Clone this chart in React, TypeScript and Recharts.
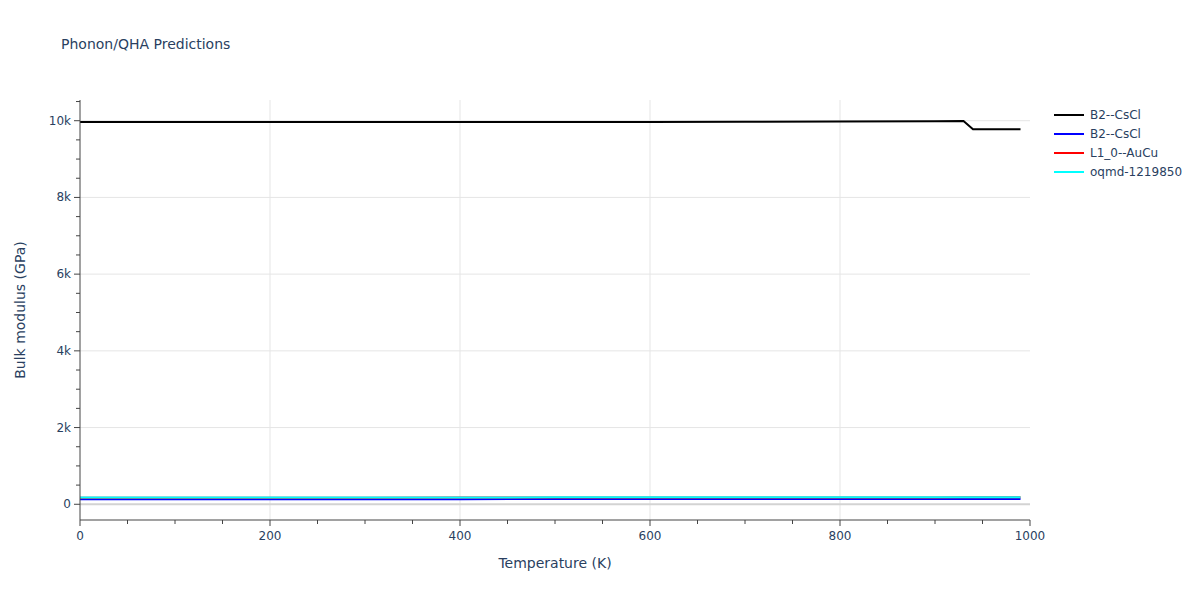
import { LineChart, Line, XAxis, YAxis, ReferenceLine } from 'recharts';

const temps = [0, 100, 200, 300, 400, 500, 600, 700, 800, 900, 930, 940, 990];
const b2Black = [9965, 9965, 9965, 9965, 9965, 9965, 9966, 9974, 9980, 9985, 9990, 9775, 9775];
const b2Blue = [130, 131, 132, 133, 134, 135, 136, 137, 138, 139, 140, 140, 140];
const l10Red = [170, 171, 172, 173, 174, 175, 176, 177, 178, 179, 180, 180, 180];
const oqmdCyan = [175, 176, 177, 178, 179, 180, 181, 182, 183, 184, 185, 185, 185];

const xTicks = Array.from({ length: 21 }, (_, i) => i * 50);
const yTicks = Array.from({ length: 22 }, (_, i) => i * 500);
const xGrid = [200, 400, 600, 800];
const yGrid = [2000, 4000, 6000, 8000, 10000];

const series = [
  { key: 'b2a', name: 'B2--CsCl', color: '#000000', values: b2Black },
  { key: 'b2b', name: 'B2--CsCl', color: '#0000ff', values: b2Blue },
  { key: 'l10', name: 'L1_0--AuCu', color: '#ff0000', values: l10Red },
  { key: 'oqmd', name: 'oqmd-1219850', color: '#00ffff', values: oqmdCyan },
];

const data = temps.map((t, i) => {
  const row: Record<string, number> = { t };
  series.forEach(s => { row[s.key] = s.values[i]; });
  return row;
});

const FONT = '"DejaVu Sans", Verdana, sans-serif';
const TXT = '#2a3f5f';

function XTick(props: any) {
  const { x, y, payload } = props;
  const major = payload.value % 200 === 0;
  return (
    <g>
      <line x1={x} x2={x} y1={y} y2={y + (major ? 6 : 4)} stroke="#444" strokeWidth={1} />
      {major && (
        <text x={x} y={y + 20} textAnchor="middle" fill={TXT} fontSize={12} fontFamily={FONT}>
          {payload.value}
        </text>
      )}
    </g>
  );
}

function YTick(props: any) {
  const { x, y, payload } = props;
  const v = payload.value;
  const major = v % 2000 === 0;
  return (
    <g>
      <line x1={x} x2={x - (major ? 6 : 4)} y1={y} y2={y} stroke="#444" strokeWidth={1} />
      {major && (
        <text x={x - 9} y={y + 4} textAnchor="end" fill={TXT} fontSize={12} fontFamily={FONT}>
          {v === 0 ? '0' : `${v / 1000}k`}
        </text>
      )}
    </g>
  );
}

export default function App() {
  return (
    <div style={{ position: 'relative', width: 1200, height: 600, background: '#fff', fontFamily: FONT }}>
      <style>{'body{margin:0}'}</style>
      <div style={{ position: 'absolute', left: 61, top: 36, fontSize: 14, color: TXT }}>
        Phonon/QHA Predictions
      </div>
      <LineChart width={1200} height={600} data={data} margin={{ top: 100, right: 170, bottom: 0, left: 0 }}>
        {xGrid.map(v => (
          <ReferenceLine key={`gx${v}`} x={v} stroke="#e5e5e5" strokeWidth={1} />
        ))}
        {yGrid.map(v => (
          <ReferenceLine key={`gy${v}`} y={v} stroke="#e5e5e5" strokeWidth={1} />
        ))}
        <ReferenceLine y={0} stroke="#d3d3d3" strokeWidth={2} />
        <XAxis
          dataKey="t"
          type="number"
          domain={[0, 1000]}
          ticks={xTicks}
          interval={0}
          height={80}
          tickSize={0}
          tickMargin={0}
          tickLine={false}
          tick={<XTick />}
          axisLine={{ stroke: '#444' }}
          label={{ value: 'Temperature (K)', position: 'insideBottom', offset: 32, fill: TXT, fontSize: 14, fontFamily: FONT }}
        />
        <YAxis
          type="number"
          domain={[-410, 10540]}
          ticks={yTicks}
          interval={0}
          width={80}
          tickSize={0}
          tickMargin={0}
          tickLine={false}
          tick={<YTick />}
          axisLine={{ stroke: '#444' }}
          label={{ value: 'Bulk modulus (GPa)', angle: -90, position: 'insideLeft', offset: 20, fill: TXT, fontSize: 14, fontFamily: FONT, style: { textAnchor: 'middle' } }}
        />
        {series.map(s => (
          <Line
            key={s.key}
            dataKey={s.key}
            name={s.name}
            stroke={s.color}
            strokeWidth={2}
            dot={false}
            type="linear"
            isAnimationActive={false}
          />
        ))}
      </LineChart>
      <div style={{ position: 'absolute', left: 1054, top: 105, fontSize: 12, color: TXT }}>
        {series.map(s => (
          <div key={s.key} style={{ display: 'flex', alignItems: 'center', height: 19 }}>
            <span style={{ display: 'inline-block', width: 30, height: 2, background: s.color, marginRight: 6 }} />
            <span>{s.name}</span>
          </div>
        ))}
      </div>
    </div>
  );
}
